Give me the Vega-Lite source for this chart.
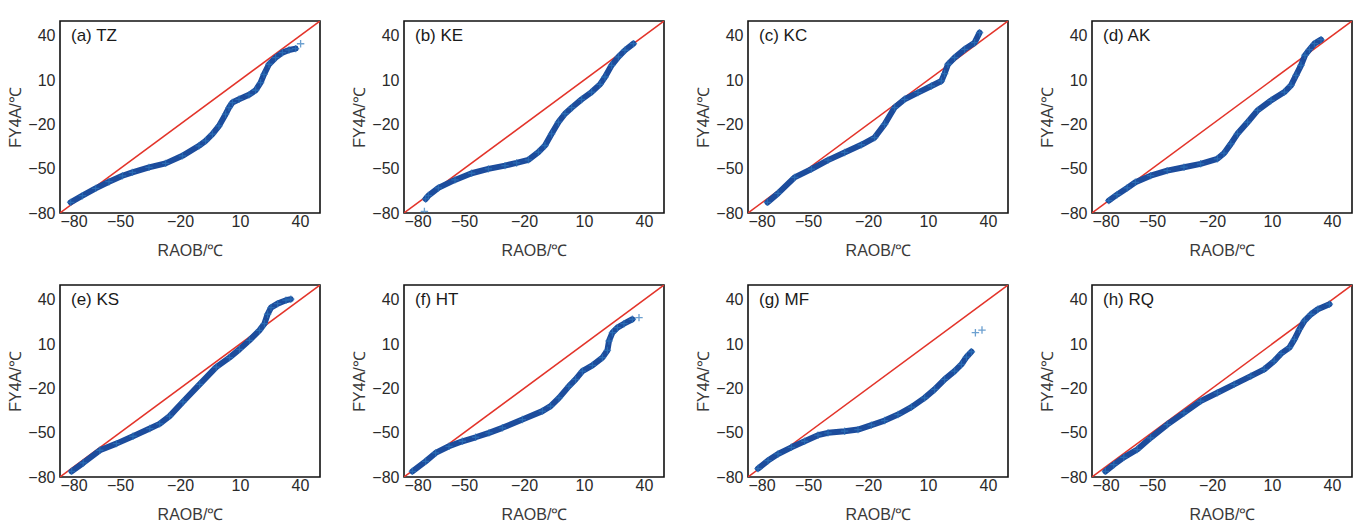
{
  "$schema": "https://vega.github.io/schema/vega-lite/v6.json",
  "padding": {"left": 7, "top": 20, "right": 5, "bottom": 2},
  "background": "white",
  "config": {
    "font": "Liberation Sans",
    "view": {"stroke": "#111", "strokeWidth": 1.6},
    "header": {"labelFontSize": 0, "labelPadding": 0, "titlePadding": 0, "labelExpr": "''"},
    "axis": {"grid": false, "ticks": false, "domain": false, "labelFont": "Liberation Sans", "labelFontSize": 16, "labelColor": "#2a2a2a", "titleFont": "Liberation Sans", "titleFontSize": 16, "titleFontWeight": "normal", "titleColor": "#3a3a3a"}
  },
  "data": {"values": [
    {"p":"(a) TZ","k":"r","x":-80,"y":-80},{"p":"(a) TZ","k":"r","x":50,"y":50},
    {"p":"(b) KE","k":"r","x":-80,"y":-80},{"p":"(b) KE","k":"r","x":50,"y":50},
    {"p":"(c) KC","k":"r","x":-80,"y":-80},{"p":"(c) KC","k":"r","x":50,"y":50},
    {"p":"(d) AK","k":"r","x":-80,"y":-80},{"p":"(d) AK","k":"r","x":50,"y":50},
    {"p":"(e) KS","k":"r","x":-80,"y":-80},{"p":"(e) KS","k":"r","x":50,"y":50},
    {"p":"(f) HT","k":"r","x":-80,"y":-80},{"p":"(f) HT","k":"r","x":50,"y":50},
    {"p":"(g) MF","k":"r","x":-80,"y":-80},{"p":"(g) MF","k":"r","x":50,"y":50},
    {"p":"(h) RQ","k":"r","x":-80,"y":-80},{"p":"(h) RQ","k":"r","x":50,"y":50},

    {"p":"(a) TZ","k":"q","x":-74.7,"y":-72.8},{"p":"(a) TZ","k":"q","x":-68.8,"y":-68.3},{"p":"(a) TZ","k":"q","x":-62.2,"y":-63.3},{"p":"(a) TZ","k":"q","x":-55.5,"y":-58.8},{"p":"(a) TZ","k":"q","x":-48.8,"y":-54.8},{"p":"(a) TZ","k":"q","x":-43.8,"y":-52.5},{"p":"(a) TZ","k":"q","x":-35.5,"y":-49.1},{"p":"(a) TZ","k":"q","x":-27.2,"y":-46.4},{"p":"(a) TZ","k":"q","x":-18.8,"y":-41.3},{"p":"(a) TZ","k":"q","x":-10.5,"y":-34.5},{"p":"(a) TZ","k":"q","x":-7.2,"y":-31.1},{"p":"(a) TZ","k":"q","x":-3.8,"y":-26.6},{"p":"(a) TZ","k":"q","x":-0.5,"y":-21},{"p":"(a) TZ","k":"q","x":2.8,"y":-13.1},{"p":"(a) TZ","k":"q","x":4.5,"y":-8.6},{"p":"(a) TZ","k":"q","x":6.2,"y":-5.2},{"p":"(a) TZ","k":"q","x":9.5,"y":-3},{"p":"(a) TZ","k":"q","x":14.5,"y":0},{"p":"(a) TZ","k":"q","x":17.8,"y":3.1},{"p":"(a) TZ","k":"q","x":20.3,"y":8.3},{"p":"(a) TZ","k":"q","x":22,"y":13.9},{"p":"(a) TZ","k":"q","x":24.5,"y":20.7},{"p":"(a) TZ","k":"q","x":27.8,"y":25.2},{"p":"(a) TZ","k":"q","x":31.2,"y":28.6},{"p":"(a) TZ","k":"q","x":34.5,"y":30.4},{"p":"(a) TZ","k":"q","x":37.8,"y":31.3},{"p":"(a) TZ","k":"o","x":40.3,"y":34.6},

    {"p":"(b) KE","k":"o","x":-69.8,"y":-79},{"p":"(b) KE","k":"q","x":-69.2,"y":-70.5},{"p":"(b) KE","k":"q","x":-67.8,"y":-68.2},{"p":"(b) KE","k":"q","x":-62.8,"y":-63},{"p":"(b) KE","k":"q","x":-54.5,"y":-57.6},{"p":"(b) KE","k":"q","x":-46.2,"y":-53.1},{"p":"(b) KE","k":"q","x":-37.8,"y":-50.1},{"p":"(b) KE","k":"q","x":-29.5,"y":-47.9},{"p":"(b) KE","k":"q","x":-23.7,"y":-46.1},{"p":"(b) KE","k":"q","x":-17.8,"y":-44},{"p":"(b) KE","k":"q","x":-12.8,"y":-38.8},{"p":"(b) KE","k":"q","x":-9.5,"y":-34.3},{"p":"(b) KE","k":"q","x":-6.2,"y":-26.4},{"p":"(b) KE","k":"q","x":-2.8,"y":-18.5},{"p":"(b) KE","k":"q","x":0.5,"y":-12.8},{"p":"(b) KE","k":"q","x":3.8,"y":-8.7},{"p":"(b) KE","k":"q","x":8.8,"y":-3.1},{"p":"(b) KE","k":"q","x":13.8,"y":1.9},{"p":"(b) KE","k":"q","x":18,"y":7.1},{"p":"(b) KE","k":"q","x":20.5,"y":12.1},{"p":"(b) KE","k":"q","x":23.8,"y":20},{"p":"(b) KE","k":"q","x":27.2,"y":25.7},{"p":"(b) KE","k":"q","x":30.5,"y":30.2},{"p":"(b) KE","k":"q","x":34.7,"y":34.7},

    {"p":"(c) KC","k":"q","x":-70.3,"y":-72.8},{"p":"(c) KC","k":"q","x":-65,"y":-66.7},{"p":"(c) KC","k":"q","x":-56.7,"y":-55.9},{"p":"(c) KC","k":"q","x":-48.3,"y":-50.3},{"p":"(c) KC","k":"q","x":-40,"y":-44.2},{"p":"(c) KC","k":"q","x":-31.7,"y":-39},{"p":"(c) KC","k":"q","x":-23.3,"y":-33.8},{"p":"(c) KC","k":"q","x":-16.7,"y":-28.9},{"p":"(c) KC","k":"q","x":-11.7,"y":-19.9},{"p":"(c) KC","k":"q","x":-6.7,"y":-8.6},{"p":"(c) KC","k":"q","x":-1.7,"y":-3},{"p":"(c) KC","k":"q","x":5,"y":1.5},{"p":"(c) KC","k":"q","x":11.7,"y":6},{"p":"(c) KC","k":"q","x":16.7,"y":9.4},{"p":"(c) KC","k":"q","x":18.3,"y":14.4},{"p":"(c) KC","k":"q","x":20,"y":20.7},{"p":"(c) KC","k":"q","x":23.3,"y":25.2},{"p":"(c) KC","k":"q","x":28.3,"y":30.8},{"p":"(c) KC","k":"q","x":33.3,"y":35.3},{"p":"(c) KC","k":"q","x":35.8,"y":42.1},

    {"p":"(d) AK","k":"q","x":-71.6,"y":-71.6},{"p":"(d) AK","k":"q","x":-67.5,"y":-67.6},{"p":"(d) AK","k":"q","x":-62.4,"y":-63},{"p":"(d) AK","k":"q","x":-58.3,"y":-59.2},{"p":"(d) AK","k":"q","x":-50.7,"y":-54.7},{"p":"(d) AK","k":"q","x":-42.4,"y":-51.3},{"p":"(d) AK","k":"q","x":-34,"y":-49},{"p":"(d) AK","k":"q","x":-25.7,"y":-46.7},{"p":"(d) AK","k":"q","x":-17.3,"y":-43.3},{"p":"(d) AK","k":"q","x":-14,"y":-39.5},{"p":"(d) AK","k":"q","x":-10.6,"y":-33.2},{"p":"(d) AK","k":"q","x":-7.3,"y":-26.4},{"p":"(d) AK","k":"q","x":-2.2,"y":-18.5},{"p":"(d) AK","k":"q","x":2.8,"y":-10.5},{"p":"(d) AK","k":"q","x":9.5,"y":-3.8},{"p":"(d) AK","k":"q","x":16.2,"y":1.9},{"p":"(d) AK","k":"q","x":19.5,"y":6.4},{"p":"(d) AK","k":"q","x":22,"y":13.2},{"p":"(d) AK","k":"q","x":24.5,"y":20},{"p":"(d) AK","k":"q","x":26.5,"y":26.8},{"p":"(d) AK","k":"q","x":28.7,"y":30.6},{"p":"(d) AK","k":"q","x":31.2,"y":34.7},{"p":"(d) AK","k":"q","x":34.5,"y":37.4},

    {"p":"(e) KS","k":"q","x":-74.2,"y":-76.2},{"p":"(e) KS","k":"q","x":-68.4,"y":-70.5},{"p":"(e) KS","k":"q","x":-60.1,"y":-61.9},{"p":"(e) KS","k":"q","x":-51.8,"y":-57.4},{"p":"(e) KS","k":"q","x":-43.5,"y":-52.4},{"p":"(e) KS","k":"q","x":-35.1,"y":-47.2},{"p":"(e) KS","k":"q","x":-30.2,"y":-44},{"p":"(e) KS","k":"q","x":-25.2,"y":-38.8},{"p":"(e) KS","k":"q","x":-18.5,"y":-29.1},{"p":"(e) KS","k":"q","x":-10.2,"y":-17.3},{"p":"(e) KS","k":"q","x":-1.9,"y":-5.6},{"p":"(e) KS","k":"q","x":4.7,"y":0.8},{"p":"(e) KS","k":"q","x":9.7,"y":6.4},{"p":"(e) KS","k":"q","x":14.7,"y":12.5},{"p":"(e) KS","k":"q","x":19.7,"y":19.3},{"p":"(e) KS","k":"q","x":22.2,"y":23.8},{"p":"(e) KS","k":"q","x":23.8,"y":30.2},{"p":"(e) KS","k":"q","x":25.5,"y":34.7},{"p":"(e) KS","k":"q","x":28.8,"y":37.4},{"p":"(e) KS","k":"q","x":33,"y":39.7},{"p":"(e) KS","k":"q","x":35.4,"y":40.4},

    {"p":"(f) HT","k":"q","x":-75.8,"y":-76.2},{"p":"(f) HT","k":"q","x":-69.2,"y":-69.4},{"p":"(f) HT","k":"q","x":-64.2,"y":-63.7},{"p":"(f) HT","k":"q","x":-57.5,"y":-59.2},{"p":"(f) HT","k":"q","x":-50.8,"y":-55.8},{"p":"(f) HT","k":"q","x":-44.2,"y":-53.1},{"p":"(f) HT","k":"q","x":-37.5,"y":-50.1},{"p":"(f) HT","k":"q","x":-30.8,"y":-46.7},{"p":"(f) HT","k":"q","x":-20.8,"y":-41.1},{"p":"(f) HT","k":"q","x":-10.8,"y":-35.4},{"p":"(f) HT","k":"q","x":-6.7,"y":-32},{"p":"(f) HT","k":"q","x":-2.5,"y":-26.4},{"p":"(f) HT","k":"q","x":2.5,"y":-18.5},{"p":"(f) HT","k":"q","x":5.8,"y":-13.9},{"p":"(f) HT","k":"q","x":9.2,"y":-8.3},{"p":"(f) HT","k":"q","x":14.2,"y":-4.4},{"p":"(f) HT","k":"q","x":19.2,"y":0.8},{"p":"(f) HT","k":"q","x":21.7,"y":5.7},{"p":"(f) HT","k":"q","x":22.5,"y":12.1},{"p":"(f) HT","k":"q","x":24.2,"y":17.7},{"p":"(f) HT","k":"q","x":26.7,"y":21.1},{"p":"(f) HT","k":"q","x":30,"y":23.8},{"p":"(f) HT","k":"q","x":34.2,"y":26.8},{"p":"(f) HT","k":"o","x":37.5,"y":27.9},

    {"p":"(g) MF","k":"q","x":-75,"y":-74.3},{"p":"(g) MF","k":"q","x":-70,"y":-68.9},{"p":"(g) MF","k":"q","x":-65,"y":-64.4},{"p":"(g) MF","k":"q","x":-58.3,"y":-59.9},{"p":"(g) MF","k":"q","x":-51.7,"y":-55.8},{"p":"(g) MF","k":"q","x":-45,"y":-51.7},{"p":"(g) MF","k":"q","x":-40,"y":-50.1},{"p":"(g) MF","k":"q","x":-31.7,"y":-49},{"p":"(g) MF","k":"q","x":-25,"y":-47.9},{"p":"(g) MF","k":"q","x":-18.3,"y":-44.9},{"p":"(g) MF","k":"q","x":-11.7,"y":-41.8},{"p":"(g) MF","k":"q","x":-5,"y":-37.7},{"p":"(g) MF","k":"q","x":1.7,"y":-32.7},{"p":"(g) MF","k":"q","x":8.3,"y":-26.4},{"p":"(g) MF","k":"q","x":13.3,"y":-20.7},{"p":"(g) MF","k":"q","x":18.3,"y":-13.9},{"p":"(g) MF","k":"q","x":23.3,"y":-8.3},{"p":"(g) MF","k":"q","x":26.7,"y":-3.8},{"p":"(g) MF","k":"q","x":29.2,"y":1.2},{"p":"(g) MF","k":"q","x":31.7,"y":4.8},{"p":"(g) MF","k":"o","x":33.7,"y":17.7},{"p":"(g) MF","k":"o","x":37,"y":19.5},

    {"p":"(h) RQ","k":"q","x":-73.3,"y":-76.2},{"p":"(h) RQ","k":"q","x":-69.1,"y":-71.6},{"p":"(h) RQ","k":"q","x":-64.1,"y":-66.7},{"p":"(h) RQ","k":"q","x":-57.4,"y":-61.4},{"p":"(h) RQ","k":"q","x":-50.7,"y":-53.5},{"p":"(h) RQ","k":"q","x":-42.4,"y":-44.5},{"p":"(h) RQ","k":"q","x":-34,"y":-36.6},{"p":"(h) RQ","k":"q","x":-25.7,"y":-28.6},{"p":"(h) RQ","k":"q","x":-17.3,"y":-23},{"p":"(h) RQ","k":"q","x":-8.9,"y":-17.3},{"p":"(h) RQ","k":"q","x":-0.6,"y":-11.7},{"p":"(h) RQ","k":"q","x":6.1,"y":-7.1},{"p":"(h) RQ","k":"q","x":11.1,"y":-1.5},{"p":"(h) RQ","k":"q","x":14.5,"y":3.5},{"p":"(h) RQ","k":"q","x":18.7,"y":7.6},{"p":"(h) RQ","k":"q","x":21.2,"y":13.2},{"p":"(h) RQ","k":"q","x":23.7,"y":20},{"p":"(h) RQ","k":"q","x":26.2,"y":25.7},{"p":"(h) RQ","k":"q","x":29.5,"y":30.2},{"p":"(h) RQ","k":"q","x":32.9,"y":33.6},{"p":"(h) RQ","k":"q","x":38.7,"y":37}
  ]},
  "facet": {"field": "p", "type": "nominal", "header": {"title": null, "labelExpr": "''", "labelFontSize": 0, "labelPadding": 0}},
  "columns": 4,
  "spacing": {"column": 30, "row": 25},
  "resolve": {"axis": {"x": "independent", "y": "independent"}},
  "spec": {
    "width": 260,
    "height": 192,
    "layer": [
      {
        "transform": [{"filter": "datum.k == 'r'"}],
        "mark": {"type": "line", "color": "#e3342a", "strokeWidth": 1.5, "clip": true},
        "encoding": {
          "x": {"field": "x", "type": "quantitative", "scale": {"domain": [-80, 50], "nice": false, "zero": false}, "axis": {"values": [-80, -50, -20, 10, 40], "title": "RAOB/℃", "labelPadding": 0, "titlePadding": 13}},
          "y": {"field": "y", "type": "quantitative", "scale": {"domain": [-80, 50], "nice": false, "zero": false}, "axis": {"values": [-80, -50, -20, 10, 40], "title": "FY4A/℃", "labelPadding": 5, "titlePadding": 4}}
        }
      },
      {
        "transform": [{"filter": "datum.k == 'q'"}],
        "mark": {"type": "line", "color": "#1c4c9c", "strokeWidth": 6, "strokeCap": "round", "strokeJoin": "round", "clip": true},
        "encoding": {
          "x": {"field": "x", "type": "quantitative"},
          "y": {"field": "y", "type": "quantitative"}
        }
      },
      {
        "transform": [{"filter": "datum.k != 'r'"}],
        "mark": {"type": "point", "shape": "M-1,0L1,0M0,-1L0,1", "filled": false, "color": "#2f78bd", "strokeWidth": 1.3, "size": 55, "clip": true},
        "encoding": {
          "x": {"field": "x", "type": "quantitative"},
          "y": {"field": "y", "type": "quantitative"}
        }
      },
      {
        "transform": [{"filter": "datum.k == 'r' && datum.x == -80"}],
        "mark": {"type": "text", "align": "left", "baseline": "middle", "fontSize": 17, "font": "Liberation Sans", "color": "#1a1a1a"},
        "encoding": {
          "x": {"datum": -74.5},
          "y": {"datum": 40},
          "text": {"field": "p"}
        }
      }
    ]
  }
}
